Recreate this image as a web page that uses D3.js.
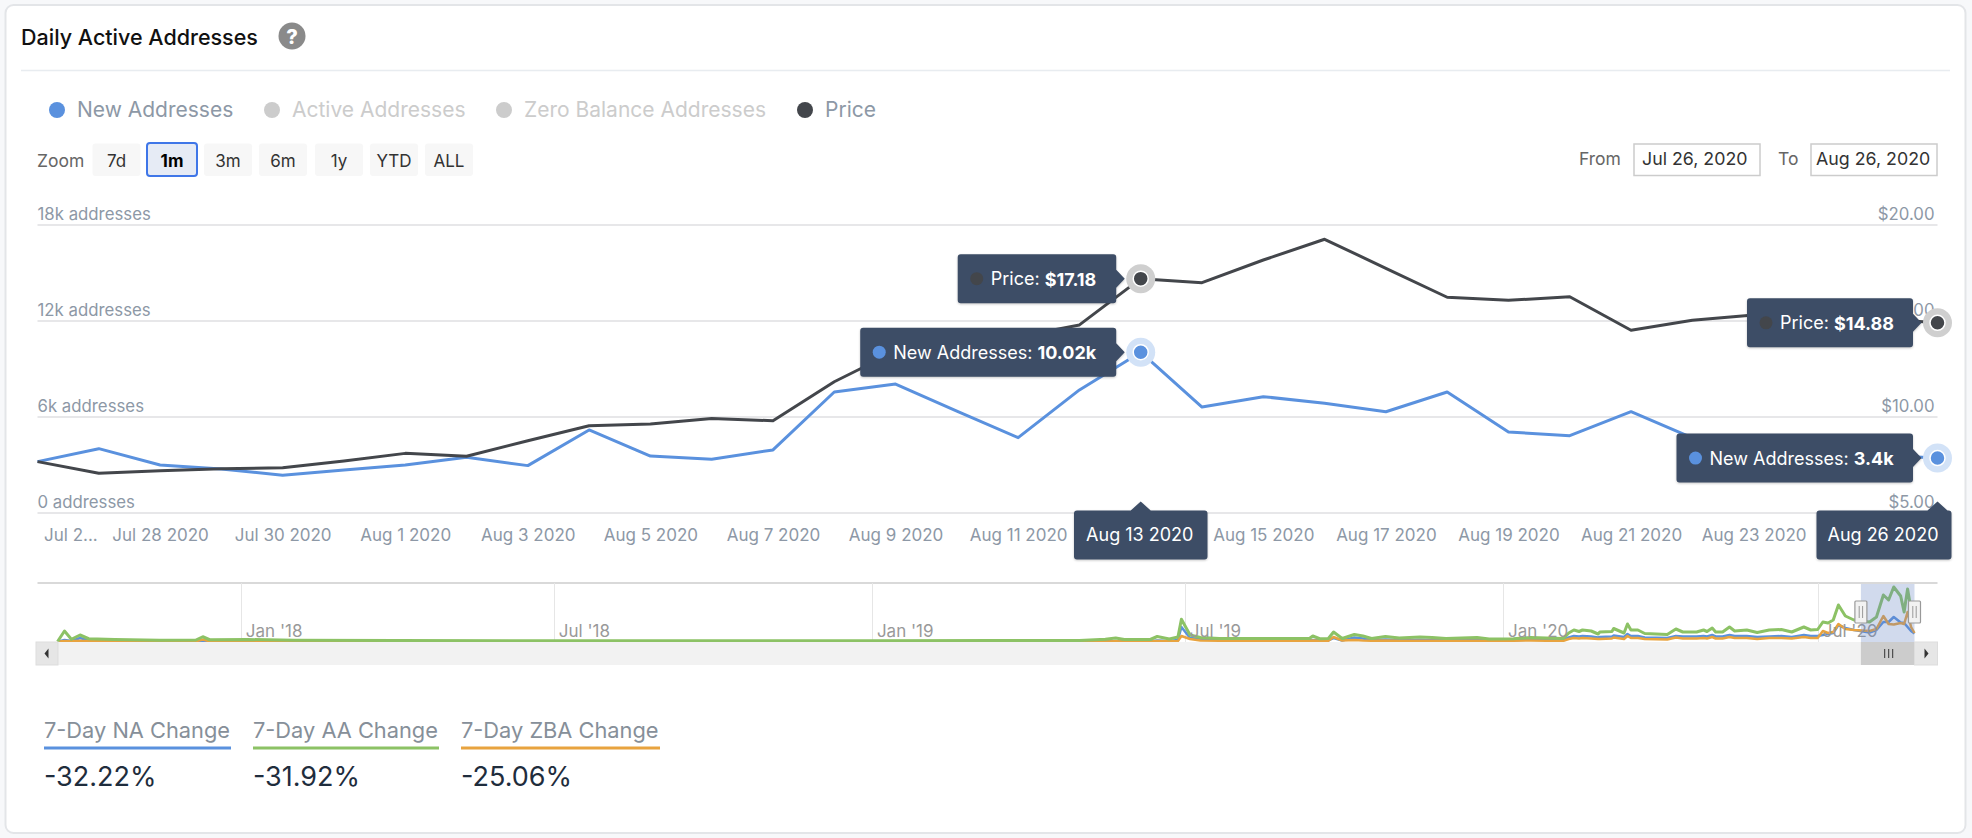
<!DOCTYPE html>
<html><head><meta charset="utf-8">
<script src="https://cdn.jsdelivr.net/npm/d3@7/dist/d3.min.js"></script>
<style>
html,body{margin:0;padding:0;background:#f7f8fa;overflow:hidden}
svg{display:block;font-family:Inter,"Noto Sans",sans-serif}
.shadow{filter:drop-shadow(0 1px 1px rgba(0,0,0,.22))}
</style></head><body><svg id="c" width="1972" height="838"></svg>
<script>
// ---------- main chart data ----------
const days = ["2020-07-26","2020-07-27","2020-07-28","2020-07-29","2020-07-30","2020-07-31","2020-08-01","2020-08-02","2020-08-03","2020-08-04","2020-08-05","2020-08-06","2020-08-07","2020-08-08","2020-08-09","2020-08-10","2020-08-11","2020-08-12","2020-08-13","2020-08-14","2020-08-15","2020-08-16","2020-08-17","2020-08-18","2020-08-19","2020-08-20","2020-08-21","2020-08-22","2020-08-23","2020-08-24","2020-08-25","2020-08-26"];
const newAddresses = [3180,3990,2970,2720,2330,2660,2970,3450,2930,5160,3530,3330,3910,7530,8030,6340,4680,7660,10020,6590,7240,6830,6300,7530,5030,4800,6300,4660,4060,3900,3600,3400];
const price = [7.65,7.04,7.18,7.28,7.33,7.68,8.08,7.93,8.74,9.52,9.61,9.90,9.78,11.81,13.4,13.8,14.16,14.77,17.18,16.97,18.15,19.23,17.72,16.21,16.05,16.24,14.49,15.01,15.29,15.35,15.1,14.88];
const leftTicks = [0,6000,12000,18000];
const rightTicks = [5,10,15,20];
const xTickDays = ["2020-07-26","2020-07-28","2020-07-30","2020-08-01","2020-08-03","2020-08-05","2020-08-07","2020-08-09","2020-08-11","2020-08-15","2020-08-17","2020-08-19","2020-08-21","2020-08-23"];
const hoverDays = ["2020-08-13","2020-08-26"];
const legendItems = ["New Addresses","Active Addresses","Zero Balance Addresses","Price"];
const zoomLabels = ["7d","1m","3m","6m","1y","YTD","ALL"];
const statLabels = ["7-Day NA Change","7-Day AA Change","7-Day ZBA Change"];
const statValues = ["-32.22%","-31.92%","-25.06%"];
// ---------- navigator data (thousand addresses) ----------
const navDates = ["2017-09-17","2017-09-21","2017-09-25","2017-09-30","2017-10-05","2017-10-20","2017-11-15","2017-12-06","2017-12-10","2017-12-14","2018-01-05","2018-02-01","2018-04-01","2018-07-01","2018-10-01","2019-01-01","2019-03-15","2019-05-01","2019-05-16","2019-05-22","2019-05-27","2019-06-11","2019-06-15","2019-06-22","2019-06-27","2019-06-29","2019-07-04","2019-07-10","2019-07-21","2019-09-11","2019-09-13","2019-09-17","2019-09-22","2019-09-25","2019-09-30","2019-10-07","2019-10-12","2019-10-17","2019-10-25","2019-11-02","2019-11-14","2019-11-21","2019-11-29","2019-12-17","2019-12-24","2020-01-07","2020-01-17","2020-01-26","2020-02-05","2020-02-08","2020-02-11","2020-02-14","2020-02-16","2020-02-21","2020-02-25","2020-02-26","2020-03-04","2020-03-05","2020-03-09","2020-03-11","2020-03-13","2020-03-15","2020-03-19","2020-03-23","2020-04-05","2020-04-10","2020-04-14","2020-04-22","2020-04-26","2020-04-28","2020-05-01","2020-05-03","2020-05-07","2020-05-11","2020-05-14","2020-05-21","2020-05-27","2020-06-03","2020-06-10","2020-06-16","2020-06-23","2020-06-27","2020-07-01","2020-07-04","2020-07-07","2020-07-10","2020-07-13","2020-07-17","2020-07-22","2020-07-31","2020-08-04","2020-08-08","2020-08-11","2020-08-14","2020-08-18","2020-08-20","2020-08-22","2020-08-24","2020-08-26"];
const navActive = [.2,4.4,1.1,2.8,1.3,1,.7,.8,2.1,.9,1,.7,.6,.5,.5,.5,.6,.6,1.1,1.6,1,1,2.2,1.2,2,9.1,2.8,1.8,1.4,1.4,2.4,1.3,1.4,4,1.4,3,2.4,1.4,2.2,1.6,2,1.8,1.4,1.8,1.2,1.3,1.8,1.6,1.4,3.6,4.8,4.2,4.8,4.4,3.2,4,4.2,5.4,4.2,3.6,7.2,4.8,4.8,3.4,3,5.2,4,4,4.8,4.2,5.6,4,4,6,4.4,4.8,3.8,4.8,5,4,6,4.8,5,8,7.6,8.8,14.8,10.4,8.8,8,10,18.8,16.8,22,18.4,12,21.2,13,8];
const navNew = [.1,.8,.4,1.6,.6,.4,.3,.3,.6,.3,.3,.3,.2,.2,.2,.2,.2,.2,.3,.4,.3,.3,.6,.4,.8,6,1.6,1.2,.8,.7,.8,.7,.7,1.6,.6,1.8,1.4,.8,1,.8,.9,.8,.7,.8,.7,.7,1,.9,.8,1.8,2.4,2.2,2.4,2.2,1.8,2,2.2,2.6,2.2,2,3.2,2.4,2.4,1.8,1.6,2.4,2.2,2.2,2.4,2.2,2.8,2.2,2.2,2.8,2.4,2.4,2,2.2,2.4,2,2.8,2.4,2.4,2.8,3.2,3.6,6.8,5.6,4.8,3.8,4.8,8,8,10,7.8,7.6,6,4.4,3.4];
const navZero = [.1,.4,.3,.5,.3,.3,.3,.3,1,.3,.3,.2,.2,.2,.2,.2,.2,.2,.2,.3,.2,.2,.4,.3,.4,2.4,1.2,.6,.5,.5,.6,.5,.5,2,.6,.8,.6,.5,.6,.5,.5,.5,.5,.5,.5,.5,.6,.5,.5,1.2,1.6,1.4,1.6,1.4,1.2,1.2,1.4,1.8,1.4,1.2,2.4,1.6,1.6,1.2,1,1.8,1.4,1.4,1.6,1.4,2,1.4,1.4,2,1.6,1.6,1.2,1.6,1.6,1.4,2,1.6,1.6,4.4,3.6,4,7.2,5.2,4.8,4.4,5.2,10.4,7.2,7,7.6,7.2,12,6,3.6];
const navTickDates = ["2018-01-01","2018-07-01","2019-01-01","2019-07-01","2020-01-01","2020-07-01"];
const navTickLabels = ["Jan '18","Jul '18","Jan '19","Jul '19","Jan '20","Jul '20"];
const selection = ["2020-07-26","2020-08-26"];

const parse = d3.utcParse("%Y-%m-%d");
const C = {blue:"#5a91de",green:"#8cc265",orange:"#e8a33f",price:"#43464b",navy:"#3d4d66",axis:"#8d98a6",grid:"#e7e7e9"};
const svg = d3.select("#c");
const F = "Inter,'Noto Sans',sans-serif";
const txt = (g,x,y,s,o={}) => g.append("text").attr("x",x).attr("y",y).text(s)
  .attr("font-size",o.size||15).attr("fill",o.fill||"#333").attr("font-weight",o.weight||400)
  .attr("text-anchor",o.anchor||"start").attr("dominant-baseline","central");

// card
svg.append("rect").attr("x",5.5).attr("y",5).attr("width",1960).attr("height",828).attr("rx",8)
  .attr("fill","#fff").attr("stroke","#e3e5e8").attr("stroke-width",2);
txt(svg,21,37,"Daily Active Addresses",{size:21.5,weight:500,fill:"#111"});
svg.append("circle").attr("cx",292).attr("cy",36).attr("r",13.5).attr("fill","#8a8a8a");
txt(svg,292,37,"?",{size:20,weight:800,fill:"#fff",anchor:"middle"});
svg.append("line").attr("x1",21).attr("x2",1950).attr("y1",70.5).attr("y2",70.5).attr("stroke","#e8ecf0").attr("stroke-width",1.5);

// legend
const legendX=[57,272,504,805], legendOn=[C.blue,"#ccc","#ccc",C.price], legendTxt=[C.axis,"#ccc","#ccc",C.axis];
legendItems.forEach((s,i)=>{
  svg.append("circle").attr("cx",legendX[i]).attr("cy",110).attr("r",8).attr("fill",legendOn[i]);
  txt(svg,legendX[i]+20,109,s,{size:21,fill:legendTxt[i]});
});

// range selector
txt(svg,37,160,"Zoom",{size:17.5,fill:"#666"});
const btnX=[92.5,147,204,259,315,370,425];
zoomLabels.forEach((s,i)=>{
  const on=i===1;
  svg.append("rect").attr("x",btnX[i]).attr("y",on?143:143.5).attr("width",on?50:48).attr("height",on?33:32.5).attr("rx",3)
    .attr("fill",on?"#e6ebf5":"#f7f7f7").attr("stroke",on?"#3f76e8":"none").attr("stroke-width",2);
  txt(svg,btnX[i]+(on?25:24),161,s,{size:17,anchor:"middle",fill:on?"#000":"#333",weight:on?700:400});
});
txt(svg,1579,158,"From",{size:17.5,fill:"#666"});
txt(svg,1778,158,"To",{size:17.5,fill:"#666"});
[[1634,"Jul 26, 2020",1642],[1811,"Aug 26, 2020",1816]].forEach(([x,s,tx])=>{
  svg.append("rect").attr("x",x).attr("y",144).attr("width",126).attr("height",31.5).attr("fill","#fff").attr("stroke","#ccc").attr("stroke-width",1.5);
  txt(svg,tx,158,s,{size:17.8,fill:"#333"});
});

// scales
const X0=37.5,X1=1937.5,Y0=512.5,Y1=224.5;
const x=d3.scaleUtc().domain([parse(days[0]),parse(days[days.length-1])]).range([X0,X1]);
const yL=d3.scaleLinear().domain([0,18000]).range([Y0,Y1]);
const yR=d3.scaleLinear().domain([5,20]).range([Y0,Y1]);

// axes
const gL=svg.append("g").attr("transform",`translate(${X0},0)`)
  .call(d3.axisRight(yL).tickValues(leftTicks).tickSize(X1-X0).tickFormat(d=>(d?d/1000+"k":"0")+" addresses"));
gL.select(".domain").remove();
gL.selectAll("line").attr("stroke",C.grid).attr("stroke-width",2);
gL.selectAll("text").attr("x",0).attr("dy",0).attr("y",-11).attr("text-anchor","start")
  .attr("dominant-baseline","central").attr("font-family",F).attr("font-size",16.8).attr("fill",C.axis);
const gR=svg.append("g").attr("transform",`translate(${X1-3},0)`)
  .call(d3.axisLeft(yR).tickValues(rightTicks).tickSize(0).tickFormat(d3.format("$.2f")));
gR.select(".domain").remove();
gR.selectAll("text").attr("x",0).attr("dy",0).attr("y",-11).attr("text-anchor","end")
  .attr("dominant-baseline","central").attr("font-family",F).attr("font-size",16.8).attr("fill",C.axis);
const gX=svg.append("g").attr("transform",`translate(0,${Y0})`)
  .call(d3.axisBottom(x).tickValues(xTickDays.map(parse)).tickSize(0)
    .tickFormat((d,i)=>i===0?"Jul 2...":d3.utcFormat("%b %-d %Y")(d)));
gX.select(".domain").remove();
gX.selectAll("text").attr("y",22).attr("dy",0).attr("dominant-baseline","central")
  .attr("font-family",F).attr("font-size",17).attr("fill",C.axis);
gX.select(".tick text").attr("text-anchor","start").attr("x",6);

// main lines
const line=(y,vals)=>d3.line().x(d=>x(parse(d))).y((d,i)=>y(vals[i]))(days);
svg.append("path").attr("d",line(yL,newAddresses)).attr("fill","none").attr("stroke",C.blue).attr("stroke-width",3).attr("stroke-linejoin","round");
svg.append("path").attr("d",line(yR,price)).attr("fill","none").attr("stroke",C.price).attr("stroke-width",3).attr("stroke-linejoin","round");

// navigator
const nx=d3.scaleUtc().domain([parse("2020-01-01"),parse("2020-08-26")]).range([1503,1914.5]);
const NT=583,NB=642,ny=d3.scaleLinear().domain([0,23.6]).range([NB,NT]);
const dates=navDates.map(parse);
const nav=svg.append("g");
nav.append("line").attr("x1",X0).attr("x2",X1).attr("y1",NT).attr("y2",NT).attr("stroke","#ccc").attr("stroke-width",1.5);
navTickDates.forEach(d=>{
  const px=Math.round(nx(parse(d)))+.5;
  nav.append("line").attr("x1",px).attr("x2",px).attr("y1",NT).attr("y2",NB).attr("stroke","#e6e6e6").attr("stroke-width",1);
});
[[navNew,C.blue],[navZero,C.orange],[navActive,C.green]].forEach(([v,c],k)=>{
  const l=d3.line().x((d,i)=>nx(d)).y((d,i)=>ny(v[i]));
  nav.append("path").attr("d",l(dates)).attr("fill","none").attr("stroke",c).attr("stroke-width",k===2?3:2.5).attr("stroke-linejoin","round");
});
navTickDates.forEach((d,i)=>txt(nav,nx(parse(d))+5,631,navTickLabels[i],{size:17,fill:"#999"}));
const sx0=nx(parse(selection[0])), sx1=nx(parse(selection[1]));
nav.append("rect").attr("x",sx0).attr("y",NT+1).attr("width",sx1-sx0).attr("height",NB-NT-1).attr("fill","#6685c2").attr("fill-opacity",.3);
[sx0,sx1].forEach(p=>{
  nav.append("rect").attr("x",p-6).attr("y",601).attr("width",12).attr("height",22).attr("rx",1).attr("fill","#f2f2f2").attr("stroke","#999").attr("stroke-width",1.2);
  [-1.7,1.7].forEach(o=>nav.append("line").attr("x1",p+o).attr("x2",p+o).attr("y1",606).attr("y2",618).attr("stroke","#999").attr("stroke-width",1));
});
// scrollbar
nav.append("rect").attr("x",36).attr("y",NB).attr("width",X1-36).attr("height",23).attr("fill","#f2f2f2");
nav.append("rect").attr("x",36).attr("y",NB).attr("width",22).attr("height",23).attr("fill","#e6e6e6").attr("stroke","#ddd");
nav.append("path").attr("d","M44.5 653.5l4-5v10z").attr("fill","#333");
nav.append("rect").attr("x",sx0).attr("y",NB).attr("width",sx1-sx0).attr("height",23).attr("fill","#ccc");
[-4,0,4].forEach(o=>nav.append("line").attr("x1",(sx0+sx1)/2+o+1).attr("x2",(sx0+sx1)/2+o+1).attr("y1",649).attr("y2",658).attr("stroke","#333").attr("stroke-width",1));
nav.append("rect").attr("x",sx1).attr("y",NB).attr("width",X1-sx1).attr("height",23).attr("fill","#e6e6e6").attr("stroke","#ddd");
nav.append("path").attr("d",`M${sx1+10} 648.5l4 5-4 5z`).attr("fill","#333");

// hover markers and tooltips
function marker(cx,cy,c,halo){
  svg.append("circle").attr("cx",cx).attr("cy",cy).attr("r",14.5).attr("fill",halo);
  svg.append("circle").attr("cx",cx).attr("cy",cy).attr("r",7.5).attr("fill",c).attr("stroke","#fff").attr("stroke-width",1.5);
}
function tip(cx,cy,w,c,label,val){
  const r=cx-24.5,l=r-w,t=cy-24.5,h=49;
  svg.append("path").attr("class","shadow").attr("d",`M${l+3} ${t}H${r-3}Q${r} ${t} ${r} ${t+3}V${cy-9}L${cx-16} ${cy}L${r} ${cy+9}V${t+h-3}Q${r} ${t+h} ${r-3} ${t+h}H${l+3}Q${l} ${t+h} ${l} ${t+h-3}V${t+3}Q${l} ${t} ${l+3} ${t}Z`)
    .attr("fill",C.navy);
  svg.append("circle").attr("cx",l+19).attr("cy",cy).attr("r",6.5).attr("fill",c);
  const tx=txt(svg,l+33,cy,label+": ",{size:18,fill:"#fff"});
  tx.append("tspan").attr("font-weight",700).text(val);
}
function dateTip(cx,l,w,s){
  const t=510.5,h=49,r=l+w;
  const a=Math.min(cx+10,r), b=cx-10;
  const right=a>=r;
  svg.append("path").attr("class","shadow").attr("d",`M${l+3} ${t}H${b}L${cx} ${t-9}L${right?r:a} ${right?t+13:t}${right?"":`H${r-3}Q${r} ${t} ${r} ${t+3}`}V${t+h-3}Q${r} ${t+h} ${r-3} ${t+h}H${l+3}Q${l} ${t+h} ${l} ${t+h-3}V${t+3}Q${l} ${t} ${l+3} ${t}Z`).attr("fill",C.navy);
  txt(svg,l+w/2-1,t+24,s,{size:18,fill:"#fff",anchor:"middle"});
}
const fmtK=v=>d3.format(".4~r")(v/1000)+"k";
const tipW={"2020-08-13":[158.5,256],"2020-08-26":[166,236.5]};
hoverDays.forEach(d=>{
  const i=days.indexOf(d),cx=x(parse(d));
  [[yR(price[i]),C.price,"#cfcfcf","Price","$"+price[i].toFixed(2),0],
   [yL(newAddresses[i]),C.blue,"#d2e2f7","New Addresses",fmtK(newAddresses[i]),1]].forEach(([cy,c,h,lab,val,k])=>{
    marker(cx,cy,c,h);
    tip(cx,cy,tipW[d][k],c,lab,val);
  });
  if(i===18) dateTip(cx,1074,133.5,d3.utcFormat("%b %-d %Y")(parse(d)));
  else dateTip(cx,1816.5,135,d3.utcFormat("%b %-d %Y")(parse(d)));
});

// 7-day stats
const sx=[44,253,461],sw=[187,186,199],sc=[C.blue,C.green,C.orange];
statLabels.forEach((s,i)=>{
  txt(svg,sx[i],730,s,{size:21.8,fill:"#868f99"});
  svg.append("rect").attr("x",sx[i]).attr("y",746.5).attr("width",sw[i]).attr("height",3).attr("fill",sc[i]);
  txt(svg,sx[i],776,statValues[i],{size:27,fill:"#1f2d3d"});
});
</script></body></html>
